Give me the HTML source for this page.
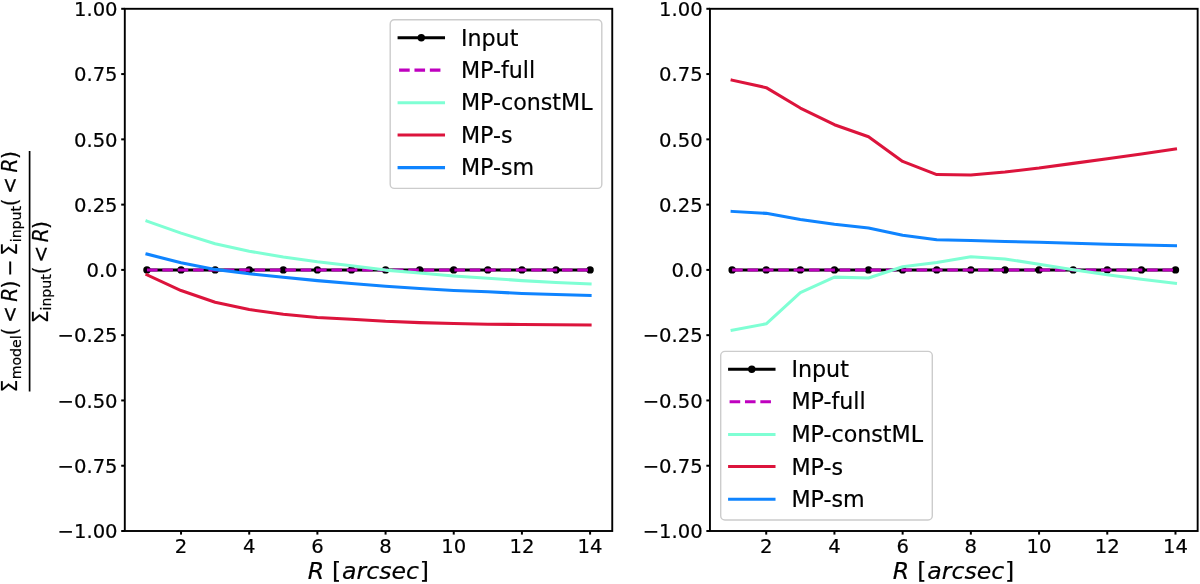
<!DOCTYPE html>
<html lang="en"><head><meta charset="utf-8"><title>Surface density residuals</title>
<style>
html,body{margin:0;padding:0;background:#fff;}
body{width:1200px;height:584px;overflow:hidden;}
svg{display:block;font-family:"DejaVu Sans","Liberation Sans",sans-serif;fill:#000;}
text{stroke:#000;stroke-width:0.2px;}
.it{font-style:italic;}
.tk{font-size:19.6px;}
.lg{font-size:22.2px;}
.ln{fill:none;stroke-width:3.05;stroke-linejoin:round;stroke-linecap:square;}
</style></head><body>
<svg width="1200" height="584" viewBox="0 0 1200 584">
<rect width="1200" height="584" fill="#fff"/>
<g>
<line x1="146.96" y1="269.9" x2="590.09" y2="269.9" stroke="#000" stroke-width="3.05" stroke-linecap="square"/>
<circle cx="146.96" cy="269.9" r="3.7"/>
<circle cx="181.04" cy="269.9" r="3.7"/>
<circle cx="215.13" cy="269.9" r="3.7"/>
<circle cx="249.22" cy="269.9" r="3.7"/>
<circle cx="283.31" cy="269.9" r="3.7"/>
<circle cx="317.39" cy="269.9" r="3.7"/>
<circle cx="351.48" cy="269.9" r="3.7"/>
<circle cx="385.57" cy="269.9" r="3.7"/>
<circle cx="419.66" cy="269.9" r="3.7"/>
<circle cx="453.74" cy="269.9" r="3.7"/>
<circle cx="487.83" cy="269.9" r="3.7"/>
<circle cx="521.92" cy="269.9" r="3.7"/>
<circle cx="556.01" cy="269.9" r="3.7"/>
<circle cx="590.09" cy="269.9" r="3.7"/>
<line x1="146.96" y1="269.9" x2="590.09" y2="269.9" stroke="#bf00bf" stroke-width="3.05" stroke-dasharray="10.6 4.77"/>
<polyline class="ln" stroke="#7fffd4" points="146.96,221.07 181.04,233.08 215.13,243.79 249.22,251.21 283.31,256.95 317.39,261.81 351.48,265.8 385.57,270.11 419.66,273.03 453.74,275.91 487.83,278.26 521.92,280.61 556.01,282.59 590.09,284"/>
<polyline class="ln" stroke="#dc143c" points="146.96,274.86 181.04,290.53 215.13,302.28 249.22,309.59 283.31,314.29 317.39,317.42 351.48,319.25 385.57,321.34 419.66,322.64 453.74,323.58 487.83,324.21 521.92,324.47 556.01,324.73 590.09,324.99"/>
<polyline class="ln" stroke="#0f84ff" points="146.96,254.08 181.04,262.69 215.13,269.38 249.22,273.71 283.31,277.21 317.39,280.61 351.48,283.48 385.57,286.35 419.66,288.59 453.74,290.53 487.83,291.83 521.92,293.4 556.01,294.6 590.09,295.49"/>
<line x1="181.04" y1="531" x2="181.04" y2="534.6" stroke="#000" stroke-width="2.0"/>
<text class="tk" x="181.04" y="552.6" text-anchor="middle">2</text>
<line x1="249.22" y1="531" x2="249.22" y2="534.6" stroke="#000" stroke-width="2.0"/>
<text class="tk" x="249.22" y="552.6" text-anchor="middle">4</text>
<line x1="317.39" y1="531" x2="317.39" y2="534.6" stroke="#000" stroke-width="2.0"/>
<text class="tk" x="317.39" y="552.6" text-anchor="middle">6</text>
<line x1="385.57" y1="531" x2="385.57" y2="534.6" stroke="#000" stroke-width="2.0"/>
<text class="tk" x="385.57" y="552.6" text-anchor="middle">8</text>
<line x1="453.74" y1="531" x2="453.74" y2="534.6" stroke="#000" stroke-width="2.0"/>
<text class="tk" x="453.74" y="552.6" text-anchor="middle">10</text>
<line x1="521.92" y1="531" x2="521.92" y2="534.6" stroke="#000" stroke-width="2.0"/>
<text class="tk" x="521.92" y="552.6" text-anchor="middle">12</text>
<line x1="590.09" y1="531" x2="590.09" y2="534.6" stroke="#000" stroke-width="2.0"/>
<text class="tk" x="590.09" y="552.6" text-anchor="middle">14</text>
<line x1="121.2" y1="8.8" x2="124.8" y2="8.8" stroke="#000" stroke-width="2.0"/>
<text class="tk" x="117.6" y="16.05" text-anchor="end">1.00</text>
<line x1="121.2" y1="74.07" x2="124.8" y2="74.07" stroke="#000" stroke-width="2.0"/>
<text class="tk" x="117.6" y="81.32" text-anchor="end">0.75</text>
<line x1="121.2" y1="139.35" x2="124.8" y2="139.35" stroke="#000" stroke-width="2.0"/>
<text class="tk" x="117.6" y="146.6" text-anchor="end">0.50</text>
<line x1="121.2" y1="204.62" x2="124.8" y2="204.62" stroke="#000" stroke-width="2.0"/>
<text class="tk" x="117.6" y="211.88" text-anchor="end">0.25</text>
<line x1="121.2" y1="269.9" x2="124.8" y2="269.9" stroke="#000" stroke-width="2.0"/>
<text class="tk" x="117.6" y="277.15" text-anchor="end">0.0</text>
<line x1="121.2" y1="335.17" x2="124.8" y2="335.17" stroke="#000" stroke-width="2.0"/>
<text class="tk" x="117.6" y="342.42" text-anchor="end">−0.25</text>
<line x1="121.2" y1="400.45" x2="124.8" y2="400.45" stroke="#000" stroke-width="2.0"/>
<text class="tk" x="117.6" y="407.7" text-anchor="end">−0.50</text>
<line x1="121.2" y1="465.73" x2="124.8" y2="465.73" stroke="#000" stroke-width="2.0"/>
<text class="tk" x="117.6" y="472.98" text-anchor="end">−0.75</text>
<line x1="121.2" y1="531" x2="124.8" y2="531" stroke="#000" stroke-width="2.0"/>
<text class="tk" x="117.6" y="538.25" text-anchor="end">−1.00</text>
<rect x="124.8" y="8.8" width="487.45" height="522.2" fill="none" stroke="#000" stroke-width="1.9"/>
<text y="578.9" font-size="23.6px"><tspan x="307.65" class="it">R</tspan><tspan x="331.98">[</tspan><tspan x="342.11" class="it">arcsec</tspan><tspan x="419.81">]</tspan></text>
<rect x="390.2" y="19.8" width="211.6" height="168.6" rx="4.2" ry="4.2" fill="#fff" fill-opacity="0.8" stroke="#cccccc" stroke-width="1.4"/>
<line x1="399.1" y1="37.7" x2="443.5" y2="37.7" stroke="#000" stroke-width="3.05" stroke-linecap="square"/>
<circle cx="421.3" cy="37.7" r="3.7"/>
<text class="lg" x="460.9" y="45.7">Input</text>
<line x1="399.1" y1="70.1" x2="443.5" y2="70.1" stroke="#bf00bf" stroke-width="3.05" stroke-dasharray="10.6 4.77"/>
<text class="lg" x="460.9" y="77.8">MP-full</text>
<line x1="399.1" y1="102.8" x2="443.5" y2="102.8" stroke="#7fffd4" stroke-width="3.05" stroke-linecap="square"/>
<text class="lg" x="460.9" y="110.3">MP-constML</text>
<line x1="399.1" y1="134.9" x2="443.5" y2="134.9" stroke="#dc143c" stroke-width="3.05" stroke-linecap="square"/>
<text class="lg" x="460.9" y="143.1">MP-s</text>
<line x1="399.1" y1="167.6" x2="443.5" y2="167.6" stroke="#0f84ff" stroke-width="3.05" stroke-linecap="square"/>
<text class="lg" x="460.9" y="175.1">MP-sm</text>
</g>
<g>
<line x1="732.12" y1="269.9" x2="1175.48" y2="269.9" stroke="#000" stroke-width="3.05" stroke-linecap="square"/>
<circle cx="732.12" cy="269.9" r="3.7"/>
<circle cx="766.22" cy="269.9" r="3.7"/>
<circle cx="800.33" cy="269.9" r="3.7"/>
<circle cx="834.43" cy="269.9" r="3.7"/>
<circle cx="868.54" cy="269.9" r="3.7"/>
<circle cx="902.64" cy="269.9" r="3.7"/>
<circle cx="936.75" cy="269.9" r="3.7"/>
<circle cx="970.85" cy="269.9" r="3.7"/>
<circle cx="1004.96" cy="269.9" r="3.7"/>
<circle cx="1039.06" cy="269.9" r="3.7"/>
<circle cx="1073.17" cy="269.9" r="3.7"/>
<circle cx="1107.27" cy="269.9" r="3.7"/>
<circle cx="1141.38" cy="269.9" r="3.7"/>
<circle cx="1175.48" cy="269.9" r="3.7"/>
<line x1="732.12" y1="269.9" x2="1175.48" y2="269.9" stroke="#bf00bf" stroke-width="3.05" stroke-dasharray="10.6 4.77"/>
<polyline class="ln" stroke="#7fffd4" points="732.12,330.32 766.22,323.84 800.33,292.69 834.43,277.11 868.54,278.07 902.64,266.82 936.75,262.48 970.85,256.74 1004.96,258.93 1039.06,264.16 1073.17,269.69 1107.27,274.73 1141.38,279.3 1175.48,283.35"/>
<polyline class="ln" stroke="#dc143c" points="732.12,80.13 766.22,87.65 800.33,108.02 834.43,124.73 868.54,136.74 902.64,161.39 936.75,174.6 970.85,174.94 1004.96,171.99 1039.06,168.07 1073.17,163.37 1107.27,158.67 1141.38,154.1 1175.48,149.01"/>
<polyline class="ln" stroke="#0f84ff" points="732.12,211.41 766.22,213.37 800.33,219.61 834.43,224.21 868.54,227.99 902.64,235.17 936.75,239.72 970.85,240.4 1004.96,241.44 1039.06,242.35 1073.17,243.32 1107.27,244.31 1141.38,245.02 1175.48,245.72"/>
<line x1="766.22" y1="531" x2="766.22" y2="534.6" stroke="#000" stroke-width="2.0"/>
<text class="tk" x="766.22" y="552.6" text-anchor="middle">2</text>
<line x1="834.43" y1="531" x2="834.43" y2="534.6" stroke="#000" stroke-width="2.0"/>
<text class="tk" x="834.43" y="552.6" text-anchor="middle">4</text>
<line x1="902.64" y1="531" x2="902.64" y2="534.6" stroke="#000" stroke-width="2.0"/>
<text class="tk" x="902.64" y="552.6" text-anchor="middle">6</text>
<line x1="970.85" y1="531" x2="970.85" y2="534.6" stroke="#000" stroke-width="2.0"/>
<text class="tk" x="970.85" y="552.6" text-anchor="middle">8</text>
<line x1="1039.06" y1="531" x2="1039.06" y2="534.6" stroke="#000" stroke-width="2.0"/>
<text class="tk" x="1039.06" y="552.6" text-anchor="middle">10</text>
<line x1="1107.27" y1="531" x2="1107.27" y2="534.6" stroke="#000" stroke-width="2.0"/>
<text class="tk" x="1107.27" y="552.6" text-anchor="middle">12</text>
<line x1="1175.48" y1="531" x2="1175.48" y2="534.6" stroke="#000" stroke-width="2.0"/>
<text class="tk" x="1175.48" y="552.6" text-anchor="middle">14</text>
<line x1="706.35" y1="8.8" x2="709.95" y2="8.8" stroke="#000" stroke-width="2.0"/>
<text class="tk" x="702.75" y="16.05" text-anchor="end">1.00</text>
<line x1="706.35" y1="74.07" x2="709.95" y2="74.07" stroke="#000" stroke-width="2.0"/>
<text class="tk" x="702.75" y="81.32" text-anchor="end">0.75</text>
<line x1="706.35" y1="139.35" x2="709.95" y2="139.35" stroke="#000" stroke-width="2.0"/>
<text class="tk" x="702.75" y="146.6" text-anchor="end">0.50</text>
<line x1="706.35" y1="204.62" x2="709.95" y2="204.62" stroke="#000" stroke-width="2.0"/>
<text class="tk" x="702.75" y="211.88" text-anchor="end">0.25</text>
<line x1="706.35" y1="269.9" x2="709.95" y2="269.9" stroke="#000" stroke-width="2.0"/>
<text class="tk" x="702.75" y="277.15" text-anchor="end">0.0</text>
<line x1="706.35" y1="335.17" x2="709.95" y2="335.17" stroke="#000" stroke-width="2.0"/>
<text class="tk" x="702.75" y="342.42" text-anchor="end">−0.25</text>
<line x1="706.35" y1="400.45" x2="709.95" y2="400.45" stroke="#000" stroke-width="2.0"/>
<text class="tk" x="702.75" y="407.7" text-anchor="end">−0.50</text>
<line x1="706.35" y1="465.73" x2="709.95" y2="465.73" stroke="#000" stroke-width="2.0"/>
<text class="tk" x="702.75" y="472.98" text-anchor="end">−0.75</text>
<line x1="706.35" y1="531" x2="709.95" y2="531" stroke="#000" stroke-width="2.0"/>
<text class="tk" x="702.75" y="538.25" text-anchor="end">−1.00</text>
<rect x="709.95" y="8.8" width="487.7" height="522.2" fill="none" stroke="#000" stroke-width="1.9"/>
<text y="578.9" font-size="23.6px"><tspan x="892.8" class="it">R</tspan><tspan x="917.13">[</tspan><tspan x="927.26" class="it">arcsec</tspan><tspan x="1004.96">]</tspan></text>
<rect x="720.7" y="351.4" width="211.6" height="168.6" rx="4.2" ry="4.2" fill="#fff" fill-opacity="0.8" stroke="#cccccc" stroke-width="1.4"/>
<line x1="729.6" y1="369.3" x2="774" y2="369.3" stroke="#000" stroke-width="3.05" stroke-linecap="square"/>
<circle cx="751.8" cy="369.3" r="3.7"/>
<text class="lg" x="791.4" y="377.3">Input</text>
<line x1="729.6" y1="401.7" x2="774" y2="401.7" stroke="#bf00bf" stroke-width="3.05" stroke-dasharray="10.6 4.77"/>
<text class="lg" x="791.4" y="409.4">MP-full</text>
<line x1="729.6" y1="434.4" x2="774" y2="434.4" stroke="#7fffd4" stroke-width="3.05" stroke-linecap="square"/>
<text class="lg" x="791.4" y="441.9">MP-constML</text>
<line x1="729.6" y1="466.5" x2="774" y2="466.5" stroke="#dc143c" stroke-width="3.05" stroke-linecap="square"/>
<text class="lg" x="791.4" y="474.7">MP-s</text>
<line x1="729.6" y1="499.2" x2="774" y2="499.2" stroke="#0f84ff" stroke-width="3.05" stroke-linecap="square"/>
<text class="lg" x="791.4" y="506.7">MP-sm</text>
</g>
<g transform="translate(0,391) rotate(-90)">
<text transform="translate(-1.53,17.4) scale(1,1.06)" font-size="20.2px">Σ</text><text transform="translate(11.72,20.6) scale(1,1.03)" font-size="14.1px">model</text><text transform="translate(55.55,17.4) scale(1,1.06)" font-size="20.2px">(</text><text transform="translate(67.94,17.4) scale(1,1.06)" font-size="20.2px">&lt;</text><text transform="translate(89.27,17.4) scale(1,1.06)" font-size="20.2px" class="it">R</text><text transform="translate(102.52,17.4) scale(1,1.06)" font-size="20.2px">)</text><text transform="translate(114.64,17.4) scale(1,1.06)" font-size="20.2px">−</text><text transform="translate(135.37,17.4) scale(1,1.06)" font-size="20.2px">Σ</text><text transform="translate(148.72,20.6) scale(1,1.03)" font-size="14.1px">input</text><text transform="translate(184.8,17.4) scale(1,1.06)" font-size="20.2px">(</text><text transform="translate(196.94,17.4) scale(1,1.06)" font-size="20.2px">&lt;</text><text transform="translate(218.52,17.4) scale(1,1.06)" font-size="20.2px" class="it">R</text><text transform="translate(231.97,17.4) scale(1,1.06)" font-size="20.2px">)</text>
<line x1="-0.5" y1="29.6" x2="240" y2="29.6" stroke="#000" stroke-width="1.7"/>
<text transform="translate(67.82,48.3) scale(1,1.06)" font-size="20.2px">Σ</text><text transform="translate(80.52,51) scale(1,1.03)" font-size="14.1px">input</text><text transform="translate(116.7,48.3) scale(1,1.06)" font-size="20.2px">(</text><text transform="translate(128.34,48.3) scale(1,1.06)" font-size="20.2px">&lt;</text><text transform="translate(148.77,48.3) scale(1,1.06)" font-size="20.2px" class="it">R</text><text transform="translate(162.12,48.3) scale(1,1.06)" font-size="20.2px">)</text>
</g>
</svg>
</body></html>
